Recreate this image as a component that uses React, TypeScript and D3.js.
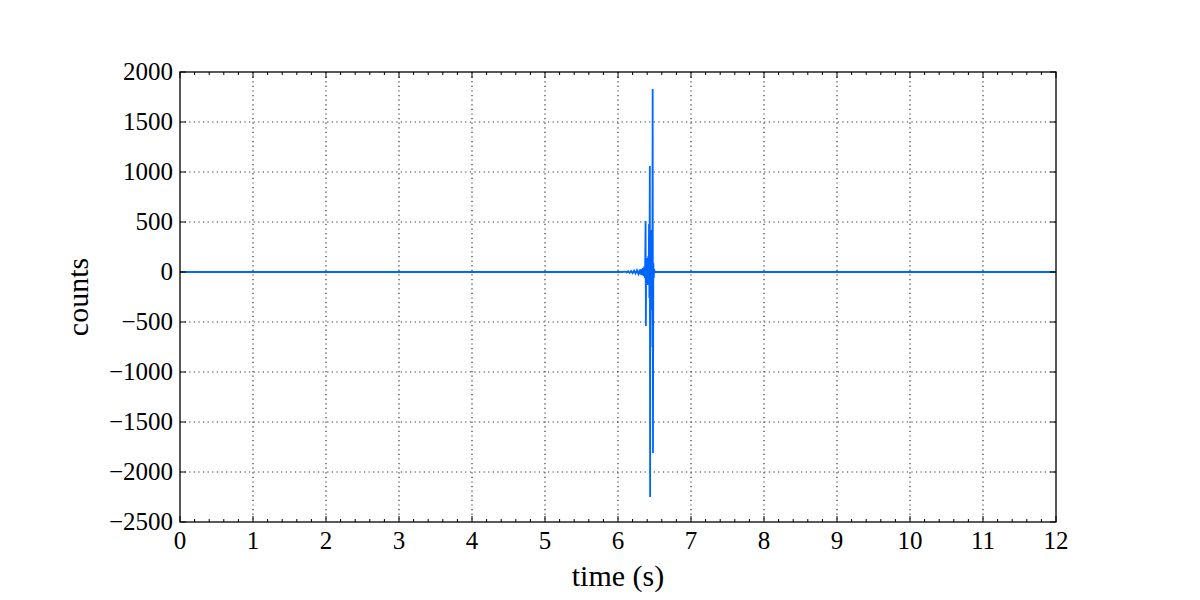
import { useEffect, useRef } from "react";
import * as d3 from "d3";

// samples of the trace (time in s, counts)
const times = [
  0, 6.05, 6.1, 6.12, 6.14, 6.16, 6.18, 6.2, 6.22, 6.24, 6.26, 6.28, 6.3, 6.31,
  6.32, 6.33, 6.34, 6.35, 6.36, 6.37, 6.378, 6.382, 6.386, 6.39, 6.395, 6.4,
  6.405, 6.41, 6.415, 6.42, 6.425, 6.43, 6.436, 6.44, 6.443, 6.447, 6.452,
  6.457, 6.462, 6.467, 6.471, 6.475, 6.479, 6.484, 6.49, 6.495, 6.5, 12,
];
const counts = [
  0, 0, 4, -5, 7, -8, 10, -11, 13, -15, 18, -20, 24, -26, 30, -32, 38, -42, 55,
  -60, 510, -540, 120, -90, 140, -110, 90, -130, 160, -100, 480, -260, 1060,
  -2250, 300, -750, 420, -380, 250, -220, 180, 1830, -1810, 90, -60, 30, 0, 0,
];

const xTicks = [0, 1, 2, 3, 4, 5, 6, 7, 8, 9, 10, 11, 12];
const yTicks = [-2500, -2000, -1500, -1000, -500, 0, 500, 1000, 1500, 2000];

const fmt = (v: number) => (v < 0 ? "\u2212" + Math.abs(v) : String(v));

export default function App() {
  const svgRef = useRef<SVGSVGElement>(null);

  useEffect(() => {
    if (!svgRef.current) return;
    const width = 1200;
    const height = 600;
    const margin = { top: 72, right: 144, bottom: 78, left: 180 };
    const innerWidth = width - margin.left - margin.right;
    const innerHeight = height - margin.top - margin.bottom;

    const svg = d3.select(svgRef.current);
    svg.selectAll("*").remove();
    svg.attr("width", width).attr("height", height);

    const g = svg
      .append("g")
      .attr("transform", `translate(${margin.left},${margin.top})`);

    const x = d3.scaleLinear().domain([0, 12]).range([0, innerWidth]);
    const y = d3.scaleLinear().domain([-2500, 2000]).range([innerHeight, 0]);

    const font = "'Liberation Serif', serif";

    // grid
    g.selectAll(".gx")
      .data(xTicks.slice(1, -1))
      .enter()
      .append("line")
      .attr("x1", (d) => x(d))
      .attr("x2", (d) => x(d))
      .attr("y1", 0)
      .attr("y2", innerHeight)
      .attr("stroke", "#333")
      .attr("stroke-width", 1.2)
      .attr("stroke-dasharray", "1.2,3.4");
    g.selectAll(".gy")
      .data(yTicks.slice(1, -1))
      .enter()
      .append("line")
      .attr("x1", 0)
      .attr("x2", innerWidth)
      .attr("y1", (d) => y(d))
      .attr("y2", (d) => y(d))
      .attr("stroke", "#333")
      .attr("stroke-width", 1.2)
      .attr("stroke-dasharray", "1.2,3.4");

    // trace
    const pts = times.map((t, i) => [t, counts[i]] as [number, number]);
    const line = d3
      .line<[number, number]>()
      .x((d) => x(d[0]))
      .y((d) => y(d[1]));
    g.append("path")
      .datum(pts)
      .attr("d", line)
      .attr("fill", "none")
      .attr("stroke", "#0066ff")
      .attr("stroke-width", 1.8)
      .attr("stroke-linejoin", "miter");

    // ticks (inward, all four sides)
    const minor = d3.range(0, 12.001, 0.2).filter((v) => Math.abs(v - Math.round(v)) > 1e-6);
    const tickG = g.append("g").attr("stroke", "#000").attr("stroke-width", 1);
    xTicks.forEach((t) => {
      tickG.append("line").attr("x1", x(t)).attr("x2", x(t)).attr("y1", innerHeight).attr("y2", innerHeight - 6);
      tickG.append("line").attr("x1", x(t)).attr("x2", x(t)).attr("y1", 0).attr("y2", 6);
    });
    minor.forEach((t) => {
      tickG.append("line").attr("x1", x(t)).attr("x2", x(t)).attr("y1", innerHeight).attr("y2", innerHeight - 3);
      tickG.append("line").attr("x1", x(t)).attr("x2", x(t)).attr("y1", 0).attr("y2", 3);
    });
    yTicks.forEach((v) => {
      tickG.append("line").attr("x1", 0).attr("x2", 6).attr("y1", y(v)).attr("y2", y(v));
      tickG.append("line").attr("x1", innerWidth).attr("x2", innerWidth - 6).attr("y1", y(v)).attr("y2", y(v));
    });

    // frame
    g.append("rect")
      .attr("width", innerWidth)
      .attr("height", innerHeight)
      .attr("fill", "none")
      .attr("stroke", "#000")
      .attr("stroke-width", 1.3);

    // tick labels
    g.selectAll(".xl")
      .data(xTicks)
      .enter()
      .append("text")
      .attr("x", (d) => x(d))
      .attr("y", innerHeight + 27)
      .attr("text-anchor", "middle")
      .attr("font-family", font)
      .attr("font-size", 25)
      .text((d) => String(d));
    g.selectAll(".yl")
      .data(yTicks)
      .enter()
      .append("text")
      .attr("x", -7)
      .attr("y", (d) => y(d) + 8)
      .attr("text-anchor", "end")
      .attr("font-family", font)
      .attr("font-size", 25)
      .text((d) => fmt(d));

    // axis labels
    g.append("text")
      .attr("x", innerWidth / 2)
      .attr("y", innerHeight + 64)
      .attr("text-anchor", "middle")
      .attr("font-family", font)
      .attr("font-size", 30)
      .text("time (s)");
    g.append("text")
      .attr("transform", `translate(${-92},${innerHeight / 2}) rotate(-90)`)
      .attr("text-anchor", "middle")
      .attr("font-family", font)
      .attr("font-size", 30)
      .text("counts");
  }, []);

  return (
    <div style={{ width: 1200, height: 600, margin: -8, background: "#fff" }}>
      <svg ref={svgRef} style={{ display: "block" }}></svg>
    </div>
  );
}
